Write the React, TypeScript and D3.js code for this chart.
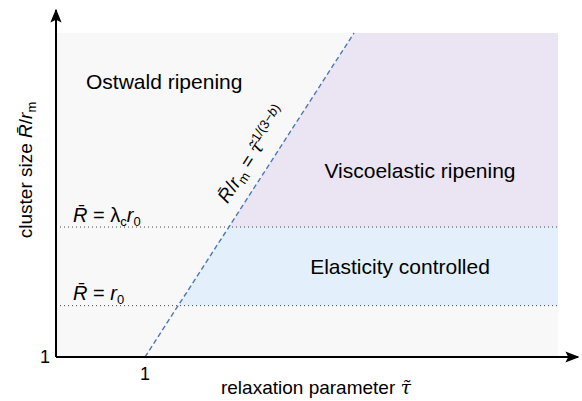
import React from "react";
import * as d3 from "d3";

// log-scale units (decades), tau = 1 and R/rm = 1 at 0
const tauDomain = [-1, 4.64];
const sizeDomain = [0, 3.64];
const tauTicks = [{ value: 0, label: "1" }];
const sizeTicks = [{ value: 0, label: "1" }];
const levelR0 = 0.577;
const levelLambda = 1.46;
const boundaryExponent = 1.55;

const W = 582;
const H = 401;
const left = 56;
const right = 558;
const top = 33;
const bottom = 357;

const font = "'Liberation Sans', Arial, Helvetica, sans-serif";

export default function App() {
  const x = d3.scaleLinear().domain(tauDomain).range([left, right]);
  const y = d3.scaleLinear().domain(sizeDomain).range([bottom, top]);

  const tauAt = (s: number) => s / boundaryExponent;
  const boundary: [number, number][] = [
    [0, 0],
    [tauAt(sizeDomain[1]), sizeDomain[1]],
  ];
  const line = d3
    .line<[number, number]>()
    .x((d) => x(d[0]))
    .y((d) => y(d[1]));

  const purple: [number, number][] = [
    [tauAt(levelLambda), levelLambda],
    [tauAt(sizeDomain[1]), sizeDomain[1]],
    [tauDomain[1], sizeDomain[1]],
    [tauDomain[1], levelLambda],
  ];
  const blue: [number, number][] = [
    [tauAt(levelR0), levelR0],
    [tauAt(levelLambda), levelLambda],
    [tauDomain[1], levelLambda],
    [tauDomain[1], levelR0],
  ];

  const angle = (-Math.atan2(y(0) - y(1), x(1 / boundaryExponent) - x(0)) * 180) / Math.PI;
  const labelS = 2.236;
  const lx = x(tauAt(labelS)) - 16;
  const ly = y(labelS);

  return (
    <svg width={W} height={H} style={{ position: "absolute", left: 0, top: 0 }} fontFamily={font}>
      <defs>
        <marker id="arr" viewBox="0 0 10 10" refX="9" refY="5" markerWidth="7" markerHeight="7" orient="auto">
          <path d="M0,1 L10,5 L0,9 L2,5 z" fill="#000" />
        </marker>
      </defs>
      <rect x={left} y={top} width={right - left} height={bottom - top} fill="#f8f8f8" />
      <path d={line(purple) + "Z"} fill="#ebe5f3" />
      <path d={line(blue) + "Z"} fill="#e3f0fb" />
      {[levelR0, levelLambda].map((v) => (
        <line key={v} x1={left} x2={right} y1={y(v)} y2={y(v)} stroke="#444" strokeWidth={1} strokeDasharray="1 3" />
      ))}
      <path d={line(boundary) ?? ""} stroke="#4b78b8" strokeWidth={1.4} strokeDasharray="5 3" fill="none" />

      <line x1={left} y1={bottom} x2={left} y2={10} stroke="#000" strokeWidth={2} markerEnd="url(#arr)" />
      <line x1={left} y1={bottom} x2={578} y2={bottom} stroke="#000" strokeWidth={2} markerEnd="url(#arr)" />

      {tauTicks.map((t) => (
        <text key={t.label} x={x(t.value)} y={380} fontSize={18} textAnchor="middle">
          {t.label}
        </text>
      ))}
      {sizeTicks.map((t) => (
        <text key={t.label} x={50} y={y(t.value) + 6} fontSize={18} textAnchor="end">
          {t.label}
        </text>
      ))}

      <text x={316} y={394} fontSize={19} textAnchor="middle">
        relaxation parameter <tspan fontFamily="'DejaVu Serif', serif" fontStyle="italic">τ̃</tspan>
      </text>
      <text transform={`translate(32,170) rotate(-90)`} fontSize={19} textAnchor="middle">
        cluster size <tspan fontStyle="italic">R̄</tspan>/<tspan fontStyle="italic">r</tspan>
        <tspan fontSize={13} dy={4}>m</tspan>
      </text>

      <text x={86} y={89} fontSize={21}>Ostwald ripening</text>
      <text x={420} y={178} fontSize={21} textAnchor="middle">Viscoelastic ripening</text>
      <text x={400} y={274} fontSize={21} textAnchor="middle">Elasticity controlled</text>

      <text x={73} y={y(levelLambda) - 5} fontSize={20}>
        <tspan fontStyle="italic">R̄</tspan> = λ<tspan fontSize={13} dy={4}>c</tspan>
        <tspan fontStyle="italic" dy={-4}>r</tspan>
        <tspan fontSize={13} dy={4}>0</tspan>
      </text>
      <text x={73} y={y(levelR0) - 6} fontSize={20}>
        <tspan fontStyle="italic">R̄</tspan> = <tspan fontStyle="italic">r</tspan>
        <tspan fontSize={13} dy={4}>0</tspan>
      </text>

      <text transform={`translate(${lx},${ly}) rotate(${angle})`} fontSize={19} textAnchor="middle">
        <tspan fontStyle="italic">R̄</tspan>/<tspan fontStyle="italic">r</tspan>
        <tspan fontSize={13} dy={4}>m</tspan>
        <tspan dy={-4}> = </tspan>
        <tspan fontFamily="'DejaVu Serif', serif" fontStyle="italic">τ̃</tspan>
        <tspan fontSize={13} dy={-8}>1/(3−</tspan>
        <tspan fontSize={13} fontStyle="italic">b</tspan>
        <tspan fontSize={13}>)</tspan>
      </text>
    </svg>
  );
}
